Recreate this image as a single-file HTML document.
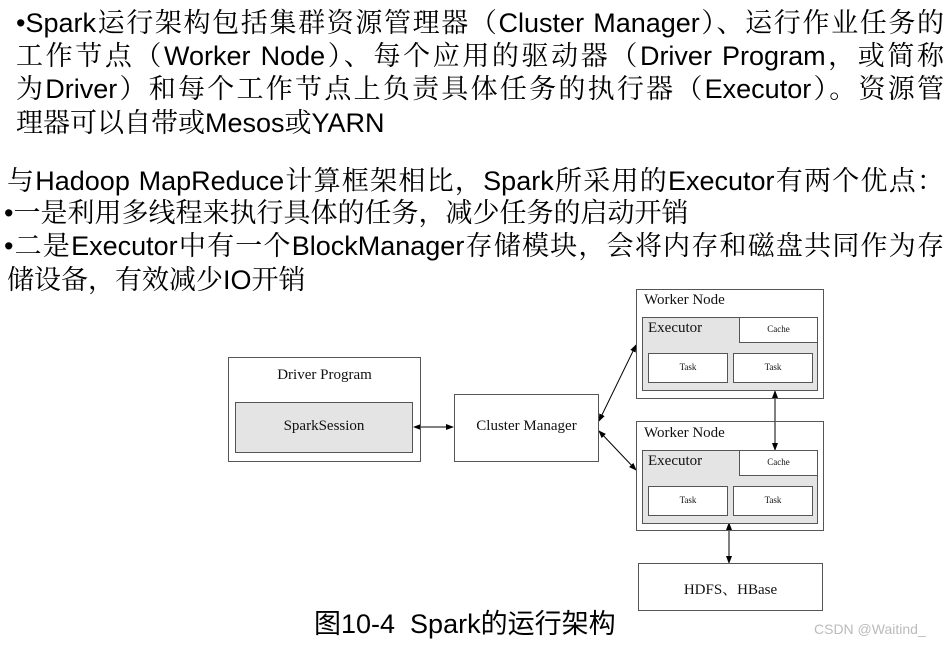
<!DOCTYPE html>
<html><head><meta charset="utf-8"><style>
body{margin:0;width:949px;height:645px;background:#fff;position:relative;overflow:hidden;font-family:"Liberation Sans","Noto Serif CJK SC","Noto Sans CJK SC",serif;}
.l{position:absolute;font-size:27px;line-height:33px;white-space:nowrap;color:#000;}
.j{text-align:justify;text-align-last:justify;text-justify:inter-character;white-space:normal;}
.b{position:absolute;border:1px solid #555;box-sizing:border-box;font-family:"Liberation Serif",serif;color:#111;}
.g{background:#e4e4e4;}
.t{position:absolute;font-family:"Liberation Serif","Noto Serif CJK SC",serif;color:#111;white-space:nowrap;}
</style></head><body>
<div class="l j" style="left:16px;top:7px;width:928px">•Spark运行架构包括集群资源管理器（Cluster Manager）、运行作业任务的</div>
<div class="l j" style="left:16px;top:40px;width:928px">工作节点（Worker Node）、每个应用的驱动器（Driver Program，或简称</div>
<div class="l j" style="left:16px;top:73px;width:928px">为Driver）和每个工作节点上负责具体任务的执行器（Executor）。资源管</div>
<div class="l" style="left:16px;top:107px">理器可以自带或Mesos或YARN</div>
<div class="l j" style="left:7px;top:165px;width:937px">与Hadoop MapReduce计算框架相比，Spark所采用的Executor有两个优点：</div>
<div class="l" style="left:4px;top:197px">•一是利用多线程来执行具体的任务，减少任务的启动开销</div>
<div class="l j" style="left:4px;top:230px;width:940px">•二是Executor中有一个BlockManager存储模块，会将内存和磁盘共同作为存</div>
<div class="l" style="left:7px;top:264px">储设备，有效减少IO开销</div>

<svg style="position:absolute;left:0;top:0" width="949" height="645">
<defs><marker id="a" markerWidth="8" markerHeight="8" refX="7" refY="4" orient="auto-start-reverse"><path d="M0,1 L8,4 L0,7 z" fill="#000"/></marker></defs>
<g stroke="#000" stroke-width="1" fill="none">
<line x1="414" y1="427" x2="453" y2="427" marker-start="url(#a)" marker-end="url(#a)"/>
<line x1="599" y1="421" x2="636" y2="345" marker-start="url(#a)" marker-end="url(#a)"/>
<line x1="599" y1="431" x2="636" y2="470" marker-start="url(#a)" marker-end="url(#a)"/>
<line x1="775" y1="391" x2="775" y2="450" marker-start="url(#a)" marker-end="url(#a)"/>
<line x1="729" y1="523" x2="729" y2="563" marker-start="url(#a)" marker-end="url(#a)"/>
</g></svg>

<div class="b" style="left:228px;top:357px;width:193px;height:105px"></div>
<div class="t" style="left:228px;width:193px;text-align:center;top:367px;font-size:15px">Driver Program</div>
<div class="b g" style="left:235px;top:402px;width:178px;height:51px"></div>
<div class="t" style="left:235px;width:178px;text-align:center;top:418px;font-size:15px">SparkSession</div>
<div class="b" style="left:454px;top:394px;width:145px;height:68px"></div>
<div class="t" style="left:454px;width:145px;text-align:center;top:418px;font-size:15px">Cluster Manager</div>

<div class="b" style="left:636px;top:289px;width:188px;height:110px"></div>
<div class="t" style="left:644px;top:292px;font-size:15px">Worker Node</div>
<div class="b g" style="left:642px;top:317px;width:176px;height:74px"></div>
<div class="t" style="left:648px;top:320px;font-size:15px">Executor</div>
<div class="b" style="left:739px;top:317px;width:79px;height:26px;background:#fff"></div>
<div class="t" style="left:739px;width:79px;text-align:center;top:324px;font-size:9px">Cache</div>
<div class="b" style="left:648px;top:353px;width:80px;height:30px;background:#fff"></div>
<div class="t" style="left:648px;width:80px;text-align:center;top:362px;font-size:9px">Task</div>
<div class="b" style="left:733px;top:353px;width:80px;height:30px;background:#fff"></div>
<div class="t" style="left:733px;width:80px;text-align:center;top:362px;font-size:9px">Task</div>

<div class="b" style="left:636px;top:421px;width:188px;height:110px"></div>
<div class="t" style="left:644px;top:425px;font-size:15px">Worker Node</div>
<div class="b g" style="left:642px;top:450px;width:176px;height:74px"></div>
<div class="t" style="left:648px;top:453px;font-size:15px">Executor</div>
<div class="b" style="left:739px;top:450px;width:79px;height:26px;background:#fff"></div>
<div class="t" style="left:739px;width:79px;text-align:center;top:457px;font-size:9px">Cache</div>
<div class="b" style="left:648px;top:486px;width:80px;height:30px;background:#fff"></div>
<div class="t" style="left:648px;width:80px;text-align:center;top:495px;font-size:9px">Task</div>
<div class="b" style="left:733px;top:486px;width:80px;height:30px;background:#fff"></div>
<div class="t" style="left:733px;width:80px;text-align:center;top:495px;font-size:9px">Task</div>

<div class="b" style="left:638px;top:563px;width:185px;height:48px"></div>
<div class="t" style="left:638px;width:185px;text-align:center;top:578px;font-size:15px">HDFS、HBase</div>

<div class="l" style="left:314px;top:608px;font-size:27px;font-family:'Liberation Sans','Noto Sans CJK SC',sans-serif">图10-4&nbsp; Spark的运行架构</div>
<div class="l" style="left:814px;top:620px;font-size:14px;line-height:18px;color:#bbb">CSDN @Waitind_</div>
</body></html>
